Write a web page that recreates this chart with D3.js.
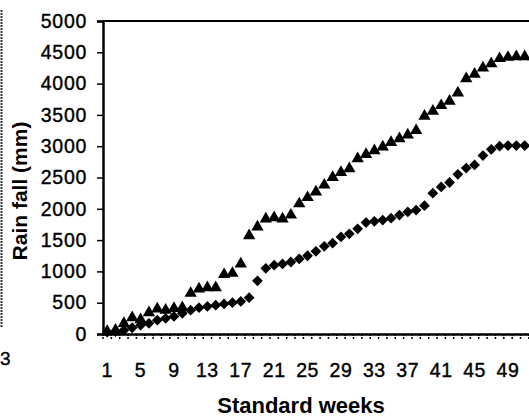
<!DOCTYPE html>
<html><head><meta charset="utf-8">
<script src="https://cdn.jsdelivr.net/npm/d3@7"></script>
<style>
html,body{margin:0;padding:0;background:#fff;overflow:hidden;}
text{font-family:"Liberation Sans",Arial,sans-serif;fill:#000;}
</style></head>
<body>
<svg id="c" width="529" height="417"></svg>
<script>
const weeks = [1,2,3,4,5,6,7,8,9,10,11,12,13,14,15,16,17,18,19,20,21,22,23,24,25,26,
  27,28,29,30,31,32,33,34,35,36,37,38,39,40,41,42,43,44,45,46,47,48,49,50,51,52];
const upperSeries = [40,60,170,260,230,340,400,380,410,420,650,720,740,740,950,970,1120,1570,
  1710,1840,1860,1840,1900,2080,2180,2270,2380,2500,2580,2640,2800,2870,2930,2990,3060,3120,
  3180,3250,3480,3560,3650,3720,3850,4080,4150,4250,4320,4400,4420,4430,4430,4430];
const lowerSeries = [30,40,60,100,140,170,220,250,280,330,380,420,440,460,480,500,520,580,
  850,1050,1100,1120,1150,1200,1250,1320,1400,1450,1550,1600,1680,1780,1800,1820,1850,1900,
  1950,1980,2050,2250,2350,2420,2550,2650,2700,2850,2950,3000,3010,3010,3010,3000];
const yTicks = [0,500,1000,1500,2000,2500,3000,3500,4000,4500,5000];
const xTickLabels = [1,5,9,13,17,21,25,29,33,37,41,45,49];
const yTitle = "Rain fall (mm)";
const xTitle = "Standard weeks";

const svg = d3.select("#c");
const mLeft = 103, mTop = 21, mBottom = 334, step = 8.35;
const x = d3.scaleBand().domain(weeks).range([mLeft, mLeft + weeks.length*step]).padding(0);
const y = d3.scaleLinear().domain([0,5000]).range([mBottom, mTop]);

// fragment of neighbouring chart at the far left
svg.append("line").attr("x1",1.5).attr("x2",1.5).attr("y1",10).attr("y2",327)
  .attr("stroke","#333").attr("stroke-width",2).attr("stroke-dasharray","2,1");
svg.append("text").attr("x",0).attr("y",365).attr("font-size",19)
  .attr("stroke","#000").attr("stroke-width",0.4).text("3");

// top border
svg.append("line").attr("x1",mLeft).attr("x2",529).attr("y1",mTop).attr("y2",mTop)
  .attr("stroke","#000").attr("stroke-width",2);

// y axis
const yAxis = svg.append("g").attr("transform",`translate(${mLeft},0)`)
  .call(d3.axisLeft(y).tickValues(yTicks).tickSize(6).tickPadding(10).tickFormat(d3.format("d")));
yAxis.select(".domain").attr("stroke","#000").attr("stroke-width",2.5);
yAxis.selectAll(".tick line").attr("stroke","#000").attr("stroke-width",1.5);
yAxis.selectAll("text").attr("font-size",19.5).attr("letter-spacing",0.7)
  .attr("stroke","#000").attr("stroke-width",0.4)
  .style("font-family","'Liberation Sans',Arial,sans-serif");

// x axis
const xAxis = svg.append("g").attr("transform",`translate(0,${mBottom})`)
  .call(d3.axisBottom(x).tickSize(0).tickPadding(0).tickFormat(""));
xAxis.select(".domain").attr("stroke","#000").attr("stroke-width",2.5);
xAxis.selectAll(".tick").remove();
// tick marks at category boundaries
const bounds = weeks.map(w => x(w)).concat([x(weeks[weeks.length-1]) + x.bandwidth()]);
svg.append("g").selectAll("line").data(bounds).join("line")
  .attr("x1",d=>d).attr("x2",d=>d).attr("y1",mBottom).attr("y2",mBottom+6)
  .attr("stroke","#000").attr("stroke-width",1.5).attr("stroke-dasharray","2,1");
svg.append("g").selectAll("text").data(xTickLabels).join("text")
  .attr("x",d=>x(d)+x.bandwidth()/2).attr("y",377)
  .attr("text-anchor","middle").attr("font-size",19.5).attr("letter-spacing",0.6)
  .attr("stroke","#000").attr("stroke-width",0.4)
  .text(d=>d);

// titles
svg.append("text").attr("transform","translate(27,191) rotate(-90)")
  .attr("text-anchor","middle").attr("font-size",21).attr("font-weight","bold").text(yTitle);
svg.append("text").attr("x",301).attr("y",413).attr("text-anchor","middle")
  .attr("font-size",22).attr("font-weight","bold").text(xTitle);

// series
const cx = w => x(w) + x.bandwidth()/2;
const tri = d3.symbol().type(d3.symbolTriangle).size(66);
const dia = d3.symbol().type(d3.symbolSquare).size(58);
svg.append("g").selectAll("path").data(weeks).join("path")
  .attr("d", tri())
  .attr("transform",(w,i)=>`translate(${cx(w)},${y(upperSeries[i])})`)
  .attr("fill","#000");
svg.append("g").selectAll("path").data(weeks).join("path")
  .attr("d", dia())
  .attr("transform",(w,i)=>`translate(${cx(w)},${y(lowerSeries[i])}) rotate(45)`)
  .attr("fill","#000");
</script>
</body></html>
